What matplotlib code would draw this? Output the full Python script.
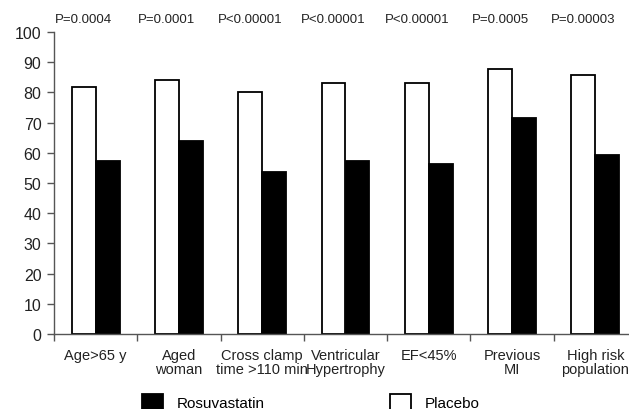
import numpy as np
import matplotlib
matplotlib.use('Agg')
import matplotlib.pyplot as plt

plt.rcParams['font.family'] = ['Liberation Sans', 'DejaVu Sans']

# values
categories = ['Age>65 y', 'Aged\nwoman', 'Cross clamp\ntime >110 min',
              'Ventricular\nHypertrophy', 'EF<45%', 'Previous\nMI',
              'High risk\npopulation']
placebo = [81.7, 84.2, 80.1, 83.2, 83.2, 87.8, 85.7]
rosuvastatin = [57.2, 63.8, 53.5, 57.2, 56.4, 71.5, 59.4]
p_values = ['P=0.0004', 'P=0.0001', 'P<0.00001', 'P<0.00001',
            'P<0.00001', 'P=0.0005', 'P=0.00003']

fig = plt.figure(figsize=(6.29, 4.10), dpi=100)
# axes run slightly past the right edge, like the cropped original
ax = fig.add_axes([54/629, 75/410, 583/629, 302/410])

x = np.arange(len(categories))
w = 0.288
b1 = ax.bar(x - w/2, placebo, w, color='white', edgecolor='black', linewidth=1.3, label='Placebo')
b2 = ax.bar(x + w/2, rosuvastatin, w, color='black', edgecolor='black', linewidth=1.3, label='Rosuvastatin')

ax.set_xlim(-0.5, len(categories) - 0.5)
ax.set_ylim(0, 100)
ax.set_yticks(range(0, 101, 10))
ax.tick_params(axis='y', labelsize=11.5, length=5, width=1, color='#555555', pad=4, labelcolor='#222222')

ax.set_xticks(x)
ax.set_xticklabels(categories, fontsize=10.5, color='#222222', linespacing=1.05)
ax.tick_params(axis='x', which='major', length=0, pad=10)
ax.set_xticks(np.arange(-0.5, len(categories), 1), minor=True)
ax.tick_params(axis='x', which='minor', length=5, width=1, color='#555555')

for s in ['top', 'right']:
    ax.spines[s].set_visible(False)
for s in ['left', 'bottom']:
    ax.spines[s].set_color('#555555')
    ax.spines[s].set_linewidth(1)

for xi, p in zip(x, p_values):
    ax.text(xi - w/2, 104.3, p, ha='center', va='center', fontsize=9.5, color='#222222', clip_on=False)

fig.legend(handles=[b2, b1], labels=['Rosuvastatin', 'Placebo'], loc='center left',
           bbox_to_anchor=(134/629, 7/410), ncol=2, frameon=False, borderpad=0,
           fontsize=11, handlelength=1.37, handleheight=1.2, handletextpad=0.9,
           columnspacing=8.2)

fig.savefig('out.png', dpi=100)
